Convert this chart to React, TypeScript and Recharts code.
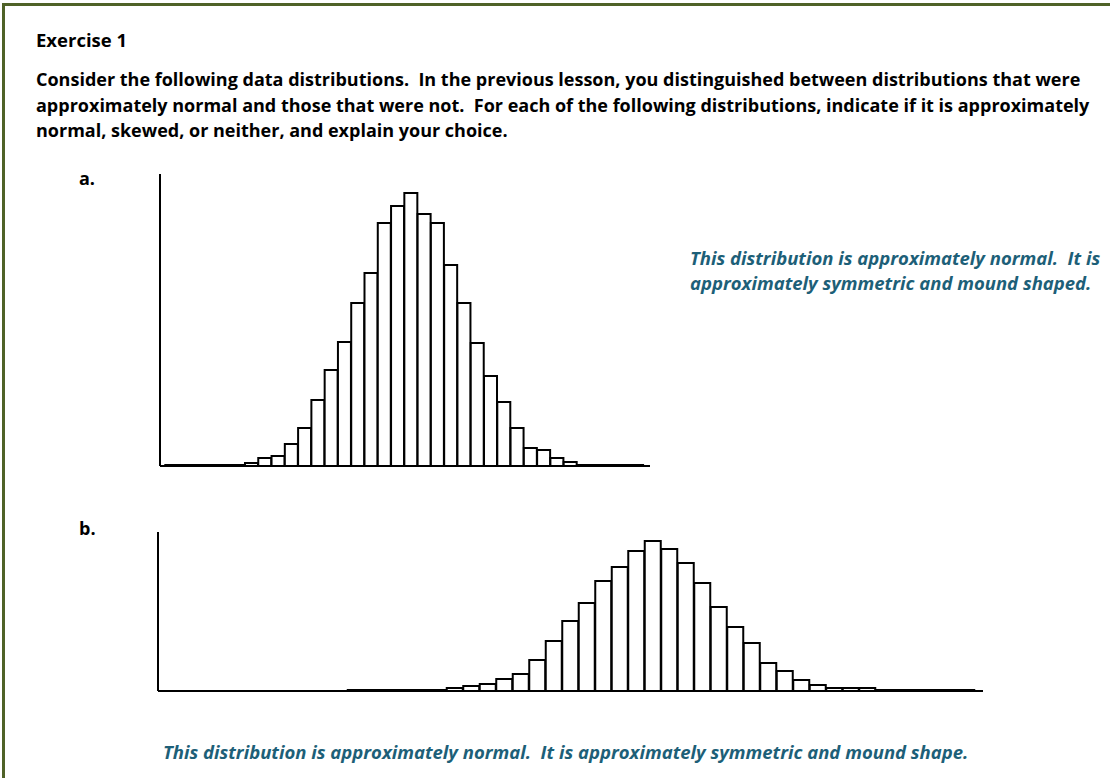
import { BarChart, Bar, XAxis, YAxis } from 'recharts';

// bin heights (relative frequency, arbitrary units)
const countsA = [
  1, 1, 1, 1, 1, 1, 3, 8, 10, 22, 38, 66, 96, 124, 163, 193, 243, 260,
  273, 252, 243, 201, 163, 123, 90, 64, 38, 18, 16, 8, 4, 1, 1, 1, 1, 1,
];
const countsB = [
  1, 1, 1, 1, 1, 1, 3, 5, 7, 12, 17, 31, 50, 70, 88, 110, 124, 140, 150,
  142, 128, 108, 84, 64, 48, 28, 20, 11, 6, 3, 3, 3, 1, 1, 1, 1, 1, 1,
];

const dataA = countsA.map((v, i) => ({ bin: i + 1, count: v }));
const dataB = countsB.map((v, i) => ({ bin: i + 1, count: v }));

const intro =
  'Consider the following data distributions.  In the previous lesson, you distinguished between distributions that were\napproximately normal and those that were not.  For each of the following distributions, indicate if it is approximately\nnormal, skewed, or neither, and explain your choice.';
const answerA = 'This distribution is approximately normal.  It is\napproximately symmetric and mound shaped.';
const answerB = 'This distribution is approximately normal.  It is approximately symmetric and mound shape.';

const font = '"Open Sans", Lato, sans-serif';
const teal = '#1d5f78';

function Histogram({ data, width, height, xDomain, max }: any) {
  return (
    <BarChart
      width={width}
      height={height}
      data={data}
      margin={{ top: 10, right: 10, bottom: 10, left: 0 }}
      barCategoryGap={0}
      barGap={0}
    >
      <XAxis
        dataKey="bin"
        type="number"
        domain={xDomain}
        allowDataOverflow
        height={1}
        tick={false}
        tickLine={false}
        axisLine={{ stroke: '#000', strokeWidth: 2 }}
      />
      <YAxis
        width={10}
        domain={[0, max]}
        tick={false}
        tickLine={false}
        axisLine={{ stroke: '#000', strokeWidth: 2 }}
      />
      <Bar dataKey="count" fill="#fff" stroke="#000" strokeWidth={2} isAnimationActive={false} />
    </BarChart>
  );
}

export default function App() {
  return (
    <div
      style={{
        position: 'absolute',
        left: 0,
        top: 0,
        width: 1110,
        height: 778,
        overflow: 'hidden',
        background: '#fff',
        fontFamily: font,
      }}
    >
      {/* frame */}
      <div
        style={{
          position: 'absolute',
          left: 2,
          top: 3,
          width: 1200,
          height: 900,
          border: '3px solid #4f6228',
          boxSizing: 'border-box',
        }}
      />

      <div style={{ position: 'absolute', left: 36, top: 27, fontSize: 18.5, fontWeight: 700 }}>Exercise 1</div>
      <div
        style={{
          position: 'absolute',
          left: 36,
          top: 67,
          fontSize: 18,
          fontWeight: 700,
          lineHeight: '25.5px',
          whiteSpace: 'pre',
        }}
      >
        {intro}
      </div>

      <div style={{ position: 'absolute', left: 79, top: 166, fontSize: 18, fontWeight: 700 }}>a.</div>
      <div style={{ position: 'absolute', left: 79, top: 516, fontSize: 18, fontWeight: 700 }}>b.</div>

      <div style={{ position: 'absolute', left: 150, top: 164 }}>
        <Histogram data={dataA} width={510} height={313} xDomain={[0.1, 37]} max={292} />
      </div>
      <div style={{ position: 'absolute', left: 148, top: 522 }}>
        <Histogram data={dataB} width={845} height={180} xDomain={[-11, 39]} max={159} />
      </div>

      <div
        style={{
          position: 'absolute',
          left: 690,
          top: 245,
          fontSize: 18.5,
          fontWeight: 700,
          fontStyle: 'italic',
          color: teal,
          lineHeight: '25px',
          whiteSpace: 'pre',
        }}
      >
        {answerA}
      </div>
      <div
        style={{
          position: 'absolute',
          left: 163,
          top: 739,
          fontSize: 18.5,
          fontWeight: 700,
          fontStyle: 'italic',
          color: teal,
          whiteSpace: 'pre',
        }}
      >
        {answerB}
      </div>
    </div>
  );
}
